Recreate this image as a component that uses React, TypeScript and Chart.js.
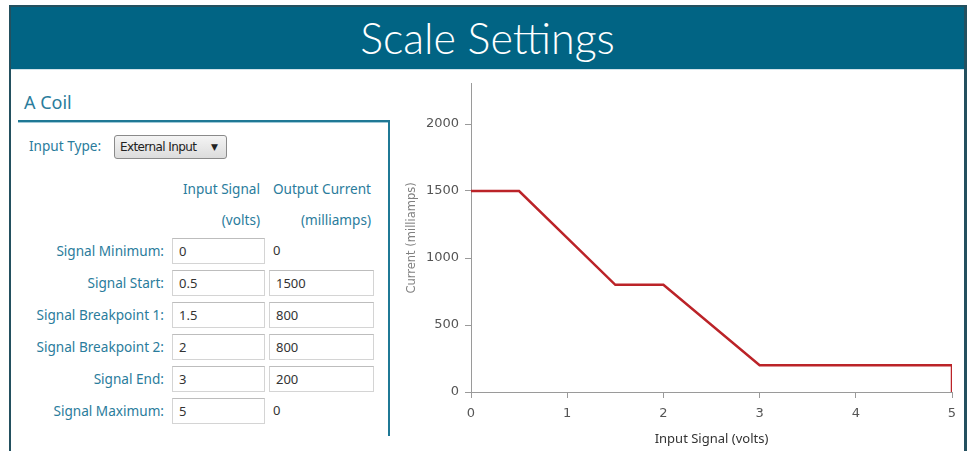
import React, { useEffect, useRef } from "react";
import { Chart, registerables } from "chart.js";

Chart.register(...registerables);

const inputSignal = [0, 0.5, 1.5, 2, 3, 5, 5];
const outputCurrent = [1500, 1500, 800, 800, 200, 200, 0];
const xTicks = [0, 1, 2, 3, 4, 5];
const yTicks = [0, 500, 1000, 1500, 2000];

const rowLabels = ["Signal Minimum:", "Signal Start:", "Signal Breakpoint 1:", "Signal Breakpoint 2:", "Signal End:", "Signal Maximum:"];
const rowSignal = ["0", "0.5", "1.5", "2", "3", "5"];
const rowCurrent = ["0", "1500", "800", "800", "200", "0"];
const rowCurrentEditable = [false, true, true, true, true, false];

const TEAL = "#2a7c9c";
const UI_FONT = "'Noto Sans', 'Open Sans', sans-serif";

function ChartBox() {
  const ref = useRef<HTMLCanvasElement | null>(null);
  useEffect(() => {
    if (!ref.current) return;
    const chart = new Chart(ref.current, {
      type: "line",
      data: {
        datasets: [
          {
            data: inputSignal.map((x, i) => ({ x, y: outputCurrent[i] })),
            borderColor: "#bb2328",
            borderWidth: 2.5,
            pointRadius: 0,
            tension: 0,
            fill: false,
            clip: 0,
          },
        ],
      },
      options: {
        animation: false,
        responsive: false,
        devicePixelRatio: 1,
        layout: { padding: { top: 9, right: 13, left: 0, bottom: 0 } },
        plugins: { legend: { display: false }, tooltip: { enabled: false } },
        scales: {
          x: {
            type: "linear",
            min: 0,
            max: 5,
            afterBuildTicks: (s: any) => {
              s.ticks = xTicks.map((v) => ({ value: v }));
            },
            afterFit: (s: any) => {
              s.height = 59;
            },
            grid: { drawOnChartArea: false, drawTicks: true, tickLength: 6, color: "#9a9a9a" },
            border: { color: "#9a9a9a", width: 1 },
            ticks: {
              color: "#555",
              font: { family: "'DejaVu Sans'", size: 13 },
              padding: 8,
              callback: (v: any) => String(v),
            },
            title: {
              display: true,
              text: "Input Signal (volts)",
              color: "#333",
              font: { family: UI_FONT, size: 13 },
              padding: { top: 6 },
            },
          },
          y: {
            type: "linear",
            min: 0,
            max: 2300,
            afterBuildTicks: (s: any) => {
              s.ticks = yTicks.map((v) => ({ value: v }));
            },
            afterFit: (s: any) => {
              s.width = 76;
            },
            grid: { drawOnChartArea: false, drawTicks: true, tickLength: 6, color: "#9a9a9a" },
            border: { color: "#9a9a9a", width: 1 },
            ticks: {
              color: "#555",
              font: { family: "'DejaVu Sans'", size: 13 },
              padding: 6,
              callback: (v: any) => String(v),
            },
            title: {
              display: true,
              text: "Current (milliamps)",
              color: "#808080",
              font: { family: "'DejaVu Sans'", size: 11.5 },
              padding: { top: 10, bottom: 0 },
            },
          },
        },
      },
    });
    return () => chart.destroy();
  }, []);
  return (
    <canvas
      ref={ref}
      width={570}
      height={381}
      style={{ position: "absolute", left: 395, top: 70, width: 570, height: 381 }}
    />
  );
}

const boxStyle = (left: number, top: number, width: number): React.CSSProperties => ({
  position: "absolute",
  left,
  top,
  width,
  height: 26,
  boxSizing: "border-box",
  border: "1px solid #d4d4d4",
  borderTopColor: "#bdbdbd",
  background: "#fff",
  fontFamily: UI_FONT,
  fontSize: 13,
  color: "#333",
  lineHeight: "24px",
  paddingLeft: 6,
});

const labelFont = 13.6;

export default function App() {
  return (
    <div
      style={{
        position: "absolute",
        left: 0,
        top: 0,
        width: 970,
        height: 451,
        overflow: "hidden",
        background: "#fff",
        fontFamily: UI_FONT,
      }}
    >
      {/* frame */}
      <div style={{ position: "absolute", left: 9, top: 5, width: 958, height: 2, background: "#23505f" }} />
      <div style={{ position: "absolute", left: 9, top: 5, width: 2, height: 446, background: "#23505f" }} />
      <div style={{ position: "absolute", left: 964, top: 5, width: 3, height: 446, background: "#23505f" }} />
      <div
        style={{
          position: "absolute",
          left: 11,
          top: 7,
          width: 953,
          height: 62,
          background: "#016484",
          color: "#fff",
          textAlign: "center",
          fontFamily: "Lato, sans-serif",
          fontWeight: 300,
          fontSize: 43,
          lineHeight: "62px",
        }}
      >
        Scale Settings
      </div>
      <div style={{ position: "absolute", left: 11, top: 69, width: 953, height: 1, background: "#cfe2ea" }} />

      {/* A Coil panel */}
      <div style={{ position: "absolute", left: 24, top: 89, fontSize: 18, color: TEAL, lineHeight: "26px" }}>A Coil</div>
      <div style={{ position: "absolute", left: 18, top: 120, width: 372, height: 2, background: "#1f7895" }} />
      <div style={{ position: "absolute", left: 18, top: 122, width: 370, height: 1, background: "#9fc9d8" }} />
      <div style={{ position: "absolute", left: 388, top: 120, width: 2, height: 316, background: "#1f7895" }} />

      <div style={{ position: "absolute", left: 29, top: 136, fontSize: labelFont, color: TEAL, lineHeight: "20px" }}>Input Type:</div>
      <div
        style={{
          position: "absolute",
          left: 114,
          top: 135,
          width: 113,
          height: 24,
          boxSizing: "border-box",
          border: "1px solid #8a8a8a",
          borderRadius: 3,
          background: "linear-gradient(#f4f4f4, #dcdcdc)",
          fontFamily: "'DejaVu Sans'",
          fontSize: 12,
          letterSpacing: -0.6,
          color: "#222",
          lineHeight: "22px",
          paddingLeft: 5,
        }}
      >
        External Input
        <span style={{ position: "absolute", right: 8, top: 0, fontSize: 9, letterSpacing: 0 }}>▼</span>
      </div>

      <div style={{ position: "absolute", left: 150, width: 110, top: 179, textAlign: "right", fontSize: labelFont, color: TEAL, lineHeight: "20px" }}>Input Signal</div>
      <div style={{ position: "absolute", left: 240, width: 131, top: 179, textAlign: "right", fontSize: labelFont, color: TEAL, lineHeight: "20px" }}>Output Current</div>
      <div style={{ position: "absolute", left: 150, width: 110, top: 210, textAlign: "right", fontSize: labelFont, color: TEAL, lineHeight: "20px" }}>(volts)</div>
      <div style={{ position: "absolute", left: 240, width: 131, top: 210, textAlign: "right", fontSize: labelFont, color: TEAL, lineHeight: "20px" }}>(milliamps)</div>

      {rowLabels.map((label, i) => {
        const top = 238 + i * 32;
        return (
          <React.Fragment key={label}>
            <div style={{ position: "absolute", left: 14, width: 150, top: top + 3, textAlign: "right", fontSize: labelFont, color: TEAL, lineHeight: "20px" }}>{label}</div>
            <div style={boxStyle(172, top, 93)}>{rowSignal[i]}</div>
            {rowCurrentEditable[i] ? (
              <div style={boxStyle(269, top, 105)}>{rowCurrent[i]}</div>
            ) : (
              <div style={{ position: "absolute", left: 273, top: top + 2, fontSize: 13, color: "#333", lineHeight: "20px" }}>{rowCurrent[i]}</div>
            )}
          </React.Fragment>
        );
      })}

      <ChartBox />
    </div>
  );
}
